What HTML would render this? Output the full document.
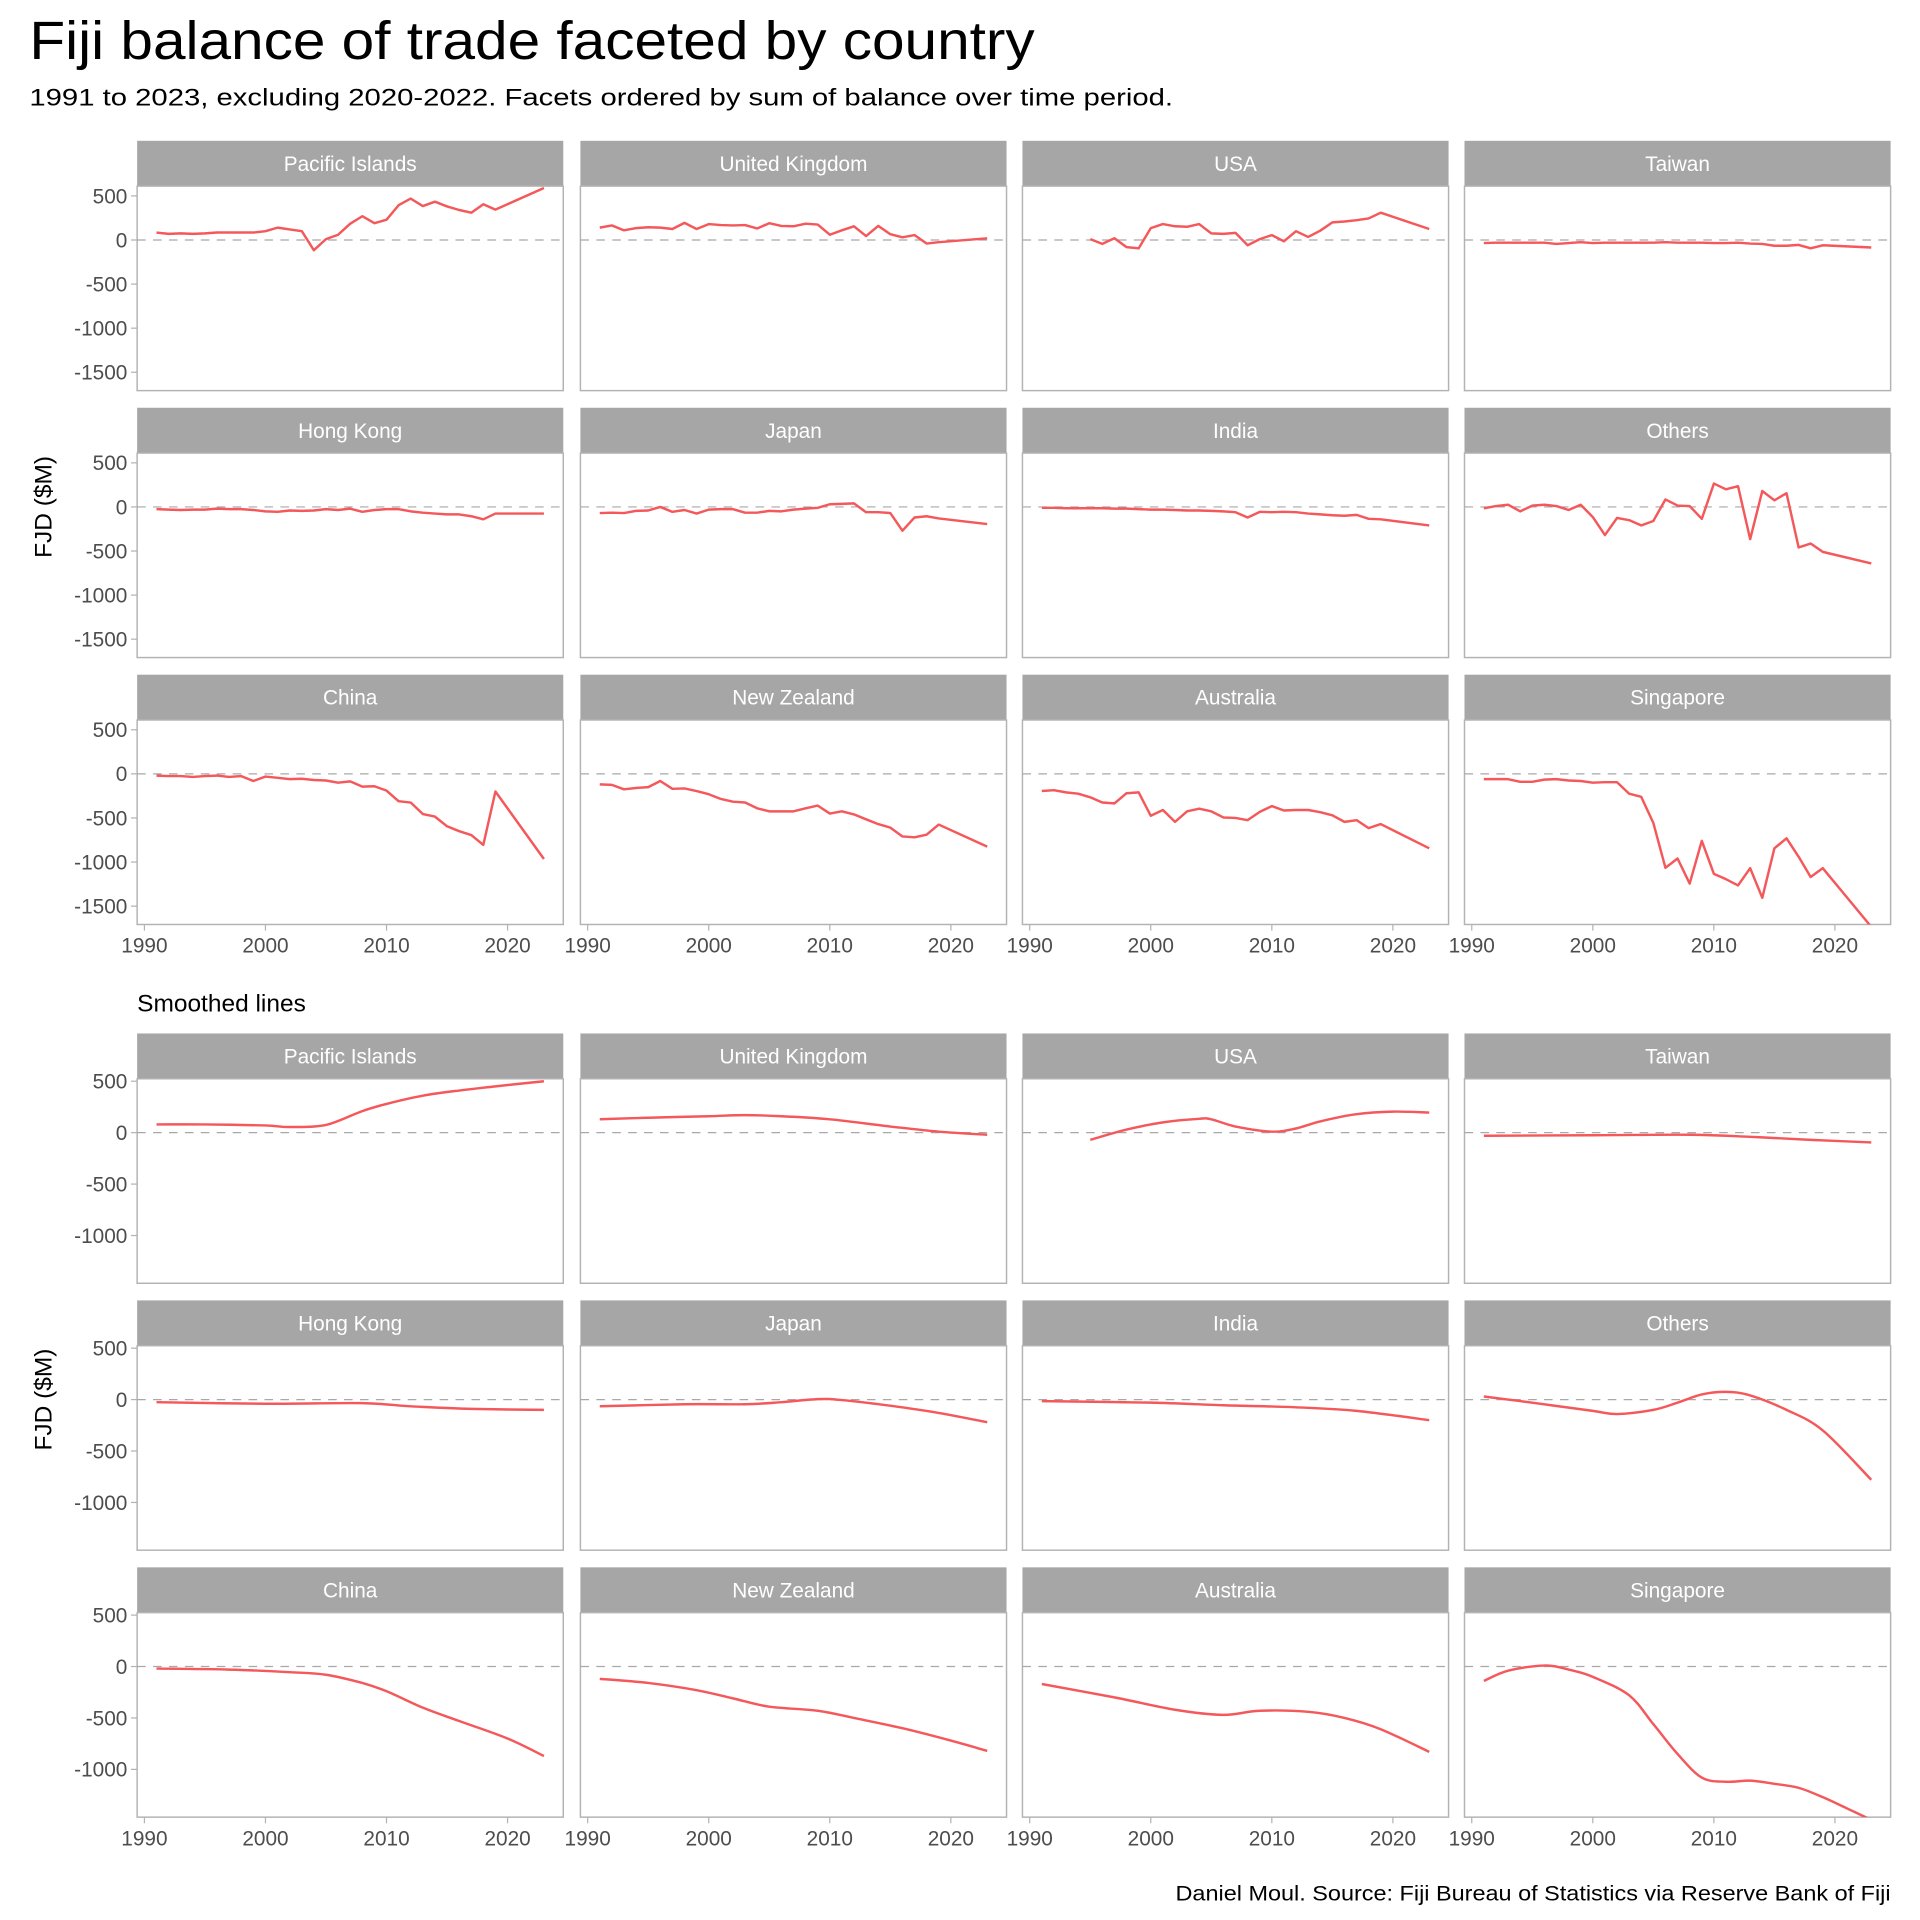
<!DOCTYPE html>
<html><head><meta charset="utf-8"><style>
html,body{margin:0;padding:0;background:#fff;}
svg{display:block;font-family:"Liberation Sans",Arial,sans-serif;}
</style></head><body>
<svg id="chart" width="1920" height="1920" viewBox="0 0 1568 1568" xmlns="http://www.w3.org/2000/svg">
<text x="24" y="48" font-size="44" fill="#000" textLength="821" lengthAdjust="spacingAndGlyphs">Fiji balance of trade faceted by country</text>
<text x="24" y="86" font-size="20" fill="#000" textLength="934" lengthAdjust="spacingAndGlyphs">1991 to 2023, excluding 2020-2022. Facets ordered by sum of balance over time period.</text>
<text x="112" y="826" font-size="20" fill="#000">Smoothed lines</text>
<text x="0" y="0" font-size="20" fill="#000" text-anchor="middle" transform="translate(42,414) rotate(-90)">FJD ($M)</text>
<text x="0" y="0" font-size="20" fill="#000" text-anchor="middle" transform="translate(42,1143) rotate(-90)">FJD ($M)</text>
<text x="1544" y="1552" font-size="17" fill="#000" text-anchor="end" textLength="584" lengthAdjust="spacingAndGlyphs">Daniel Moul. Source: Fiji Bureau of Statistics via Reserve Bank of Fiji</text>
<g id="facets"></g>
</svg>
<script>
const countries = ["Pacific Islands","United Kingdom","USA","Taiwan","Hong Kong","Japan","India","Others","China","New Zealand","Australia","Singapore"];
const years = [1991,1992,1993,1994,1995,1996,1997,1998,1999,2000,2001,2002,2003,2004,2005,2006,2007,2008,2009,2010,2011,2012,2013,2014,2015,2016,2017,2018,2019,2023];
const usaYears = [1995,1996,1997,1998,1999,2000,2001,2002,2003,2004,2005,2006,2007,2008,2009,2010,2011,2012,2013,2014,2015,2016,2017,2018,2019,2023];
const pacificIslands = [85,70,75,70,75,85,85,85,85,100,140,120,100,-115,10,60,185,270,190,230,395,470,385,435,380,340,310,405,345,590];
const unitedKingdom = [140,165,110,135,145,140,125,195,125,180,170,165,170,130,190,160,155,185,175,60,110,155,45,160,65,30,55,-40,-25,20];
const usa = [10,-45,20,-80,-95,135,180,155,150,180,75,70,80,-60,10,55,-15,100,35,105,200,210,225,245,310,125];
const taiwan = [-35,-30,-30,-30,-30,-30,-45,-35,-25,-35,-30,-30,-30,-30,-30,-25,-30,-30,-30,-35,-35,-30,-40,-45,-65,-65,-55,-95,-60,-85];
const hongKong = [-25,-30,-35,-30,-30,-20,-25,-25,-35,-50,-55,-40,-45,-40,-25,-35,-20,-55,-35,-25,-25,-50,-65,-75,-85,-85,-105,-140,-75,-75];
const japan = [-70,-65,-70,-45,-40,0,-55,-35,-75,-30,-25,-25,-65,-65,-45,-50,-30,-20,-10,30,35,40,-60,-60,-70,-270,-120,-105,-130,-195];
const india = [-10,-10,-15,-15,-15,-15,-20,-20,-25,-30,-30,-35,-40,-40,-45,-50,-60,-120,-55,-60,-55,-60,-75,-85,-95,-100,-90,-135,-140,-210];
const others = [-15,10,25,-50,15,25,10,-35,25,-115,-320,-125,-150,-210,-160,85,15,10,-135,265,200,235,-365,180,75,155,-460,-415,-510,-640];
const china = [-20,-25,-25,-35,-25,-20,-35,-25,-80,-30,-45,-60,-55,-70,-75,-100,-85,-145,-140,-190,-310,-325,-455,-485,-595,-650,-695,-805,-200,-965];
const newZealand = [-120,-125,-175,-160,-150,-80,-170,-165,-195,-230,-285,-315,-325,-390,-425,-425,-425,-390,-360,-450,-425,-460,-515,-570,-610,-710,-720,-690,-575,-825];
const australia = [-195,-185,-210,-225,-265,-325,-335,-220,-210,-475,-410,-545,-425,-395,-425,-495,-500,-525,-430,-365,-415,-410,-410,-435,-470,-545,-525,-615,-570,-845];
const singapore = [-60,-60,-60,-90,-90,-65,-60,-75,-80,-100,-95,-95,-225,-260,-555,-1065,-960,-1245,-760,-1135,-1195,-1265,-1070,-1405,-845,-730,-940,-1170,-1070,-1735];

const smPacificYears = [1991,1995,2000,2002,2005,2008,2010,2013,2016,2019,2023];
const smPacific = [80,80,70,55,75,210,280,360,410,450,500];
const smUKYears = [1991,1995,2000,2003,2006,2010,2015,2019,2023];
const smUK = [130,145,160,170,160,130,60,10,-20];
const smUSAYears = [1995,1998,2001,2004,2005,2007,2010,2012,2014,2017,2020,2023];
const smUSA = [-70,30,100,135,130,60,10,40,110,180,205,195];
const smTaiwanYears = [1991,2000,2008,2013,2018,2023];
const smTaiwan = [-30,-25,-20,-40,-70,-95];
const smHongKongYears = [1991,2000,2008,2012,2017,2023];
const smHongKong = [-25,-40,-35,-65,-90,-100];
const smJapanYears = [1991,1998,2003,2006,2009,2011,2015,2019,2023];
const smJapan = [-65,-45,-45,-25,5,-5,-60,-130,-220];
const smIndiaYears = [1991,2000,2006,2012,2017,2023];
const smIndia = [-15,-30,-55,-75,-110,-200];
const smOthersYears = [1991,1995,2000,2002,2005,2007,2009,2011,2013,2016,2019,2023];
const smOthers = [30,-30,-110,-140,-100,-30,50,75,40,-100,-300,-780];
const smChinaYears = [1991,1997,2002,2005,2008,2010,2013,2016,2020,2023];
const smChina = [-20,-30,-55,-80,-160,-240,-400,-530,-700,-870];
const smNZYears = [1991,1995,1999,2002,2005,2009,2012,2016,2020,2023];
const smNZ = [-120,-160,-230,-310,-390,-430,-500,-600,-720,-820];
const smAustraliaYears = [1991,1997,2002,2006,2009,2013,2016,2019,2023];
const smAustralia = [-170,-300,-420,-470,-430,-440,-500,-610,-830];
const smSingaporeYears = [1991,1993,1996,1998,2000,2003,2005,2007,2009,2011,2013,2015,2017,2019,2021,2023];
const smSingapore = [-140,-40,10,-30,-100,-280,-560,-850,-1080,-1120,-1110,-1140,-1180,-1270,-1380,-1490];

const topTicks = [500,0,-500,-1000,-1500];
const bottomTicks = [500,0,-500,-1000];
const xTicks = [1990,2000,2010,2020];

const rawSeries = [
  [years,pacificIslands],[years,unitedKingdom],[usaYears,usa],[years,taiwan],
  [years,hongKong],[years,japan],[years,india],[years,others],
  [years,china],[years,newZealand],[years,australia],[years,singapore]];
const smoothSeries = [
  [smPacificYears,smPacific],[smUKYears,smUK],[smUSAYears,smUSA],[smTaiwanYears,smTaiwan],
  [smHongKongYears,smHongKong],[smJapanYears,smJapan],[smIndiaYears,smIndia],[smOthersYears,smOthers],
  [smChinaYears,smChina],[smNZYears,smNZ],[smAustraliaYears,smAustralia],[smSingaporeYears,smSingapore]];

const NS = "http://www.w3.org/2000/svg";
const root = document.getElementById("facets");
const colX = [112,474,835,1196];
const PW = 348, PH = 167, SH = 37;
const blocks = [
  {rows:[152,370,588], k:0.072, ticks:topTicks, series:rawSeries, smooth:false, key:"raw"},
  {rows:[881,1099,1317], k:0.084, ticks:bottomTicks, series:smoothSeries, smooth:true, key:"smoothed"}
];
function mk(tag, attrs, parent){
  const e = document.createElementNS(NS, tag);
  for (const a in attrs) e.setAttribute(a, attrs[a]);
  parent.appendChild(e);
  return e;
}
function xScale(x0, yr){ return x0 + (yr - 1989.4) * (PW / 35.2); }
function yScale(top, k, v){ return top + 44 - v * k; }
let clipId = 0;
blocks.forEach(function(b){
  b.rows.forEach(function(top, r){
    colX.forEach(function(x0, c){
      const idx = r*4 + c;
      const name = countries[idx].toLowerCase().replace(/ /g,'-');
      const g = mk("g", {}, root);
      
      
      const strip = mk("rect", {x:x0, y:top-SH, width:PW, height:SH, fill:"#a6a6a6"}, g);
      
      
      const st = mk("text", {x:x0+PW/2, y:top-SH/2+6, "font-size":17, fill:"#fff", "text-anchor":"middle"}, g);
      st.textContent = countries[idx];
      
      
      const bg = mk("rect", {x:x0, y:top, width:PW, height:PH, fill:"#fff", stroke:"#b3b3b3", "stroke-width":1.2}, g);
      
      
      const y0 = yScale(top, b.k, 0);
      const zl = mk("line", {x1:x0, x2:x0+PW, y1:y0, y2:y0, stroke:"#a8a8a8", "stroke-width":1, "stroke-dasharray":"7,6"}, g);
      
      
      clipId++;
      const cp = mk("clipPath", {id:"cp"+clipId}, g);
      mk("rect", {x:x0, y:top, width:PW, height:PH}, cp);
      const ys = b.series[idx][0], vs = b.series[idx][1];
      const pts = ys.map(function(yr,i){ return [xScale(x0, yr), yScale(top, b.k, vs[i])]; });
      let d;
      if (!b.smooth) {
        d = pts.map(function(p,i){ return (i?"L":"M") + p[0].toFixed(1) + "," + p[1].toFixed(1); }).join("");
      } else {
        d = "M" + pts[0][0] + "," + pts[0][1];
        for (let i=0;i<pts.length-1;i++){
          const p0 = pts[Math.max(0,i-1)], p1 = pts[i], p2 = pts[i+1], p3 = pts[Math.min(pts.length-1,i+2)];
          const c1x = p1[0] + (p2[0]-p0[0])/6, c1y = p1[1] + (p2[1]-p0[1])/6;
          const c2x = p2[0] - (p3[0]-p1[0])/6, c2y = p2[1] - (p3[1]-p1[1])/6;
          d += "C" + c1x.toFixed(1)+","+c1y.toFixed(1)+" "+c2x.toFixed(1)+","+c2y.toFixed(1)+" "+p2[0].toFixed(1)+","+p2[1].toFixed(1);
        }
      }
      const ln = mk("path", {d:d, fill:"none", stroke:"#f4585a", "stroke-width":2, "stroke-linejoin":"round", "clip-path":"url(#cp"+clipId+")"}, g);
      
      
      if (c === 0) {
        b.ticks.forEach(function(t){
          const ty = yScale(top, b.k, t);
          const tk = mk("line", {x1:x0-5, x2:x0, y1:ty, y2:ty, stroke:"#b3b3b3", "stroke-width":1}, g);
          
          
          const tl = mk("text", {x:x0-8, y:ty+6, "font-size":17, fill:"#4d4d4d", "text-anchor":"end"}, g);
          tl.textContent = String(t);
          
          
        });
      }
      if (r === 2) {
        xTicks.forEach(function(t){
          const tx = xScale(x0, t);
          const tk = mk("line", {x1:tx, x2:tx, y1:top+PH, y2:top+PH+5, stroke:"#b3b3b3", "stroke-width":1}, g);
          
          
          const tl = mk("text", {x:tx, y:top+PH+23, "font-size":17, fill:"#4d4d4d", "text-anchor":"middle"}, g);
          tl.textContent = String(t);
          
          
        });
      }
    });
  });
});
</script>
</body></html>
